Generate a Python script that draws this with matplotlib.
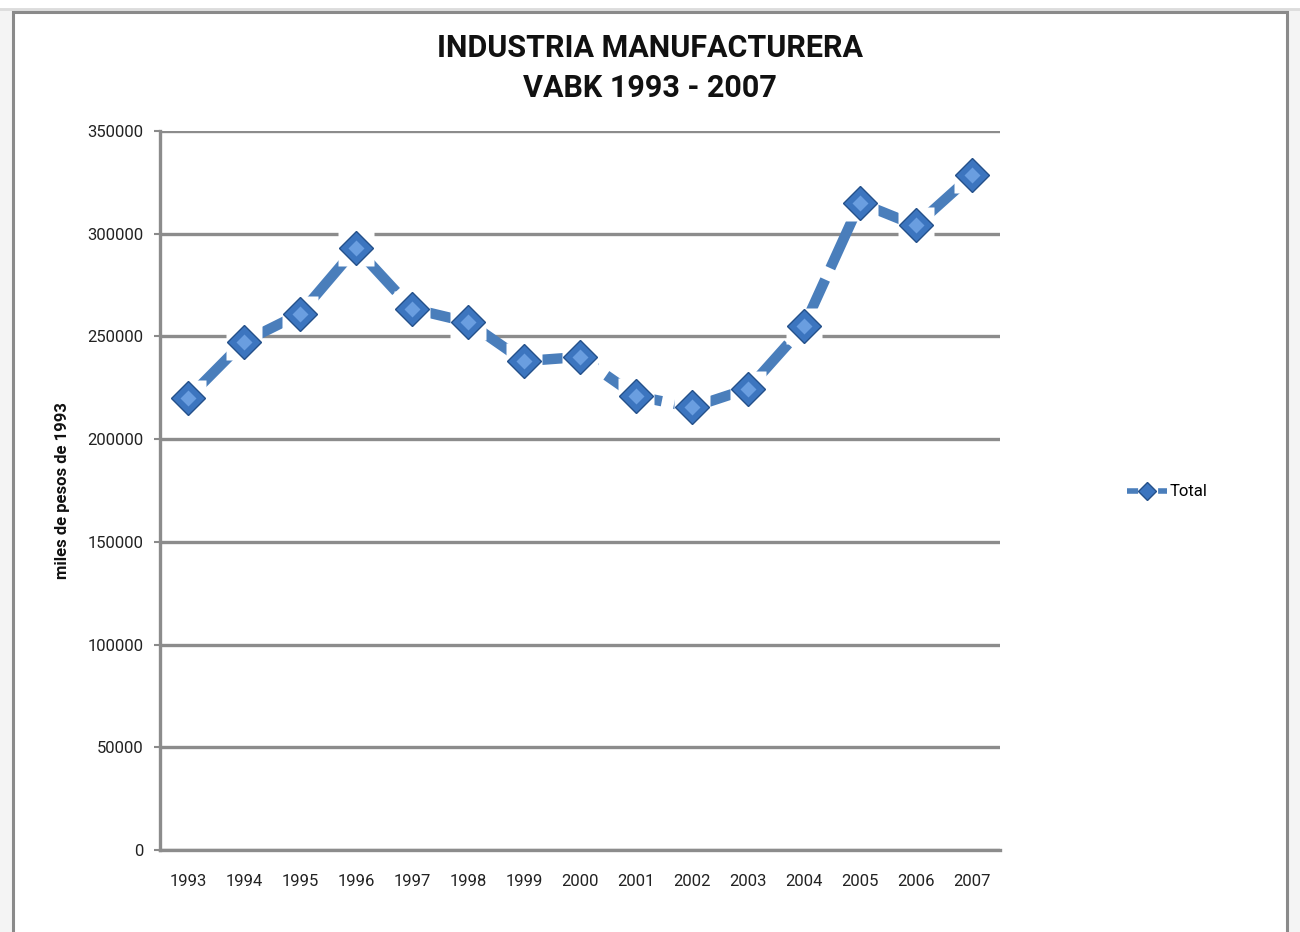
import matplotlib
matplotlib.use("Agg")
import matplotlib.pyplot as plt
from matplotlib.patches import Rectangle
from matplotlib.lines import Line2D

years = ["1993", "1994", "1995", "1996", "1997", "1998", "1999", "2000",
         "2001", "2002", "2003", "2004", "2005", "2006", "2007"]
total = [220000, 247500, 261000, 293000, 263500, 257000, 238000, 240000,
         221000, 215500, 224500, 255000, 315000, 304000, 328500]
yticks = [0, 50000, 100000, 150000, 200000, 250000, 300000, 350000]

W, H = 1300, 932
fig = plt.figure(figsize=(W / 100, H / 100), dpi=100)
fig.patch.set_facecolor("#f4f4f4")

FONT = ["Roboto", "DejaVu Sans"]

def fx(x):
    return x / W

def fy(y):
    return 1 - y / H

# top white strip and light line
fig.patches.append(Rectangle((0, fy(8)), 1, 8 / H, transform=fig.transFigure,
                             facecolor="white", edgecolor="none", zorder=0))
fig.add_artist(Line2D([0, 1], [fy(9), fy(9)], transform=fig.transFigure,
                      color="#dcdcdc", lw=2, zorder=1))
# chart frame
fig.patches.append(Rectangle((fx(13), fy(940)), fx(1287) - fx(13), fy(12) - fy(940),
                             transform=fig.transFigure, facecolor="white",
                             edgecolor="#8a8a8a", lw=2.2, zorder=1))

ax = fig.add_axes([fx(160), fy(850), fx(1000) - fx(160), fy(131) - fy(850)])
ax.set_facecolor("none")
ax.set_zorder(2)

x = list(range(len(years)))
line_color = "#4a7ebb"
ax.plot(x, total, color=line_color, lw=7.5, linestyle=(0, (6, 1.2)),
        solid_capstyle="butt", dash_capstyle="butt", zorder=3)
# white boxes behind markers
ax.plot(x, total, linestyle="none", marker="s", markersize=26,
        markerfacecolor="white", markeredgecolor="none", zorder=4)
ax.plot(x, total, linestyle="none", marker="D", markersize=17,
        markerfacecolor="#3c75bf", markeredgecolor="#24508a", markeredgewidth=1.0,
        zorder=5)
ax.plot(x, total, linestyle="none", marker="D", markersize=8,
        markerfacecolor="#6a9ee0", markeredgecolor="none", zorder=6)

ax.set_xlim(-0.5, len(years) - 0.5)
ax.set_ylim(0, 350000)
ax.set_xticks(x)
ax.set_xticklabels(years, fontsize=12, family=FONT)
ax.set_yticks(yticks)
ax.set_yticklabels([str(v) for v in yticks], fontsize=12, family=FONT)
ax.tick_params(axis="x", length=0, pad=17, colors="#222222")
ax.tick_params(axis="y", length=4, width=1.5, pad=8, colors="#222222")
ax.tick_params(axis="y", color="#8a8a8a")

ax.grid(axis="y", color="#8c8c8c", lw=2.4, zorder=1)
ax.set_axisbelow(True)
for s in ["top", "right"]:
    ax.spines[s].set_visible(False)
for s in ["left", "bottom"]:
    ax.spines[s].set_color("#8c8c8c")
    ax.spines[s].set_linewidth(2.4)

fig.text(fx(62), fy(491), "miles de pesos de 1993", rotation=90, ha="center",
         va="center", fontsize=12, fontweight="bold", family=FONT, color="#111111")

fig.text(0.5, fy(48), "INDUSTRIA MANUFACTURERA", ha="center", va="center",
         fontsize=22, fontweight="bold", family=FONT, color="#111111")
fig.text(0.5, fy(88), "VABK 1993 - 2007", ha="center", va="center",
         fontsize=22, fontweight="bold", family=FONT, color="#111111")

handle = Line2D([0], [0], color=line_color, lw=4, linestyle=(0, (2, 0.8)),
                marker="D", markersize=9, markerfacecolor="#3c75bf",
                markeredgecolor="#24508a")
fig.legend([handle], ["Total"], loc="center left",
           bbox_to_anchor=(fx(1112), fy(492)), frameon=False,
           handlelength=2.4, handletextpad=0.15, prop={"family": FONT, "size": 12})

fig.savefig("out.png", dpi=100, facecolor=fig.get_facecolor())
